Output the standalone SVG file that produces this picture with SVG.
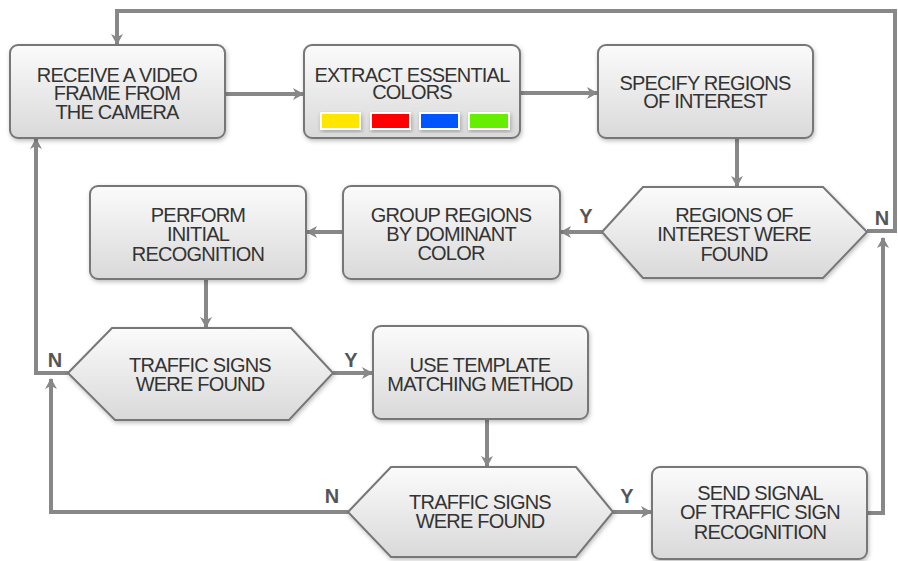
<svg xmlns="http://www.w3.org/2000/svg" width="898" height="561" viewBox="0 0 898 561">
  <defs>
    <linearGradient id="g" x1="0" y1="0" x2="0" y2="1">
      <stop offset="0" stop-color="#fbfbfb"/>
      <stop offset="1" stop-color="#d9d9d9"/>
    </linearGradient>
    <filter id="sh" x="-10%" y="-10%" width="125%" height="130%">
      <feDropShadow dx="1" dy="2" stdDeviation="2" flood-color="#000" flood-opacity="0.25"/>
    </filter>
    <marker id="ah" viewBox="0 0 11 12" refX="10" refY="6" markerWidth="11" markerHeight="12" markerUnits="userSpaceOnUse" orient="auto">
      <path d="M0,0 L11,6 L0,12 L3,6 Z" fill="#888"/>
    </marker>
    <style>
      .box{fill:url(#g);stroke:#777;stroke-width:2;filter:url(#sh)}
      .t{font-family:"Liberation Sans",Arial,sans-serif;font-size:20px;letter-spacing:-0.8px;fill:#333;text-anchor:middle}
      .lbl{font-family:"Liberation Sans",Arial,sans-serif;font-size:20px;font-weight:bold;fill:#555;text-anchor:middle}
      .c{fill:none;stroke:#888;stroke-width:4;marker-end:url(#ah)}
      .cn{fill:none;stroke:#888;stroke-width:4}
      .sw{stroke:#fff;stroke-width:2;filter:url(#sh)}
    </style>
  </defs>

  <g id="connectors">
    <path class="c" d="M867,231 H895 V11 H117 V44"/>
    <path class="c" d="M225,94 H303"/>
    <path class="c" d="M520,93 H597"/>
    <path class="c" d="M737,138 V186"/>
    <path class="c" d="M602,232 H561"/>
    <path class="c" d="M343,232 H307"/>
    <path class="c" d="M206,279 V327"/>
    <path class="c" d="M68,373 H36 V139"/>
    <path class="c" d="M333,373 H372"/>
    <path class="c" d="M487,419 V466"/>
    <path class="c" d="M348,512 H51 V379"/>
    <path class="c" d="M613,512 H651"/>
    <path class="c" d="M867,513 H883 V238"/>
    <text class="lbl" x="882" y="225">N</text>
    <text class="lbl" x="586" y="223">Y</text>
    <text class="lbl" x="55" y="367">N</text>
    <text class="lbl" x="351" y="367">Y</text>
    <text class="lbl" x="332" y="503">N</text>
    <text class="lbl" x="627" y="503">Y</text>
  </g>

  <g id="receive">
    <rect class="box" x="10" y="45" width="215" height="93" rx="8"/>
    <text class="t" x="117" y="82">RECEIVE A VIDEO</text>
    <text class="t" x="117" y="100">FRAME FROM</text>
    <text class="t" x="117" y="119">THE CAMERA</text>
  </g>

  <g id="extract">
    <rect class="box" x="304" y="45" width="216" height="93" rx="8"/>
    <text class="t" x="412" y="82">EXTRACT ESSENTIAL</text>
    <text class="t" x="412" y="99">COLORS</text>
    <rect class="sw" x="321" y="113" width="39" height="16" fill="#ffe600"/>
    <rect class="sw" x="371" y="113" width="39" height="16" fill="#ff0000"/>
    <rect class="sw" x="420" y="113" width="39" height="16" fill="#0055ff"/>
    <rect class="sw" x="469" y="113" width="40" height="16" fill="#66ee00"/>
  </g>

  <g id="specify">
    <rect class="box" x="598" y="45" width="215" height="93" rx="8"/>
    <text class="t" x="705" y="90">SPECIFY REGIONS</text>
    <text class="t" x="705" y="108">OF INTEREST</text>
  </g>

  <g id="roi-found">
    <polygon class="box" points="602,232 643,187 823,187 867,232 823,278 643,278"/>
    <text class="t" x="734" y="222">REGIONS OF</text>
    <text class="t" x="734" y="241">INTEREST WERE</text>
    <text class="t" x="734" y="261">FOUND</text>
  </g>

  <g id="group">
    <rect class="box" x="343" y="186" width="217" height="93" rx="8"/>
    <text class="t" x="451" y="222">GROUP REGIONS</text>
    <text class="t" x="451" y="241">BY DOMINANT</text>
    <text class="t" x="451" y="260">COLOR</text>
  </g>

  <g id="perform">
    <rect class="box" x="90" y="186" width="216" height="93" rx="8"/>
    <text class="t" x="198" y="222">PERFORM</text>
    <text class="t" x="198" y="241">INITIAL</text>
    <text class="t" x="198" y="261">RECOGNITION</text>
  </g>

  <g id="signs-found-1">
    <polygon class="box" points="68,373 112,328 291,328 333,373 289,420 115,420"/>
    <text class="t" x="200" y="372">TRAFFIC SIGNS</text>
    <text class="t" x="200" y="391">WERE FOUND</text>
  </g>

  <g id="template">
    <rect class="box" x="373" y="326" width="215" height="93" rx="8"/>
    <text class="t" x="480" y="372">USE TEMPLATE</text>
    <text class="t" x="480" y="391">MATCHING METHOD</text>
  </g>

  <g id="signs-found-2">
    <polygon class="box" points="348,512 391,467 576,467 613,512 576,557 391,557"/>
    <text class="t" x="480" y="509">TRAFFIC SIGNS</text>
    <text class="t" x="480" y="528">WERE FOUND</text>
  </g>

  <g id="send">
    <rect class="box" x="652" y="467" width="215" height="92" rx="8"/>
    <text class="t" x="760" y="500">SEND SIGNAL</text>
    <text class="t" x="760" y="519">OF TRAFFIC SIGN</text>
    <text class="t" x="760" y="539">RECOGNITION</text>
  </g>
</svg>
